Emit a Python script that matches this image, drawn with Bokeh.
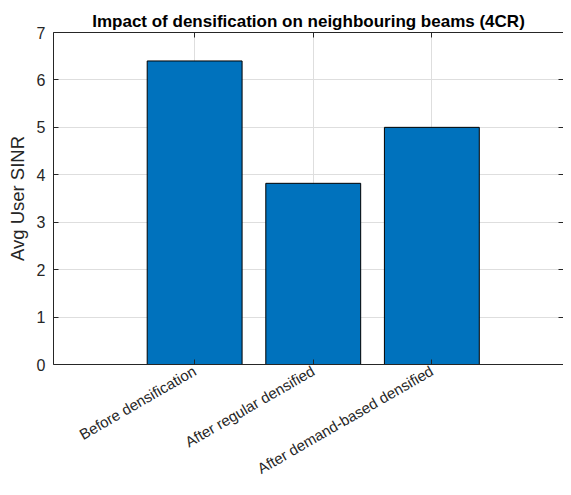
import math
from bokeh.plotting import figure
from bokeh.models import FixedTicker, LinearAxis, Range1d, ColumnDataSource
from bokeh.embed import file_html
from bokeh.resources import INLINE

categories = ["Before densification", "After regular densified", "After demand-based densified"]
values = [6.40, 3.82, 5.00]
y_ticks = [0, 1, 2, 3, 4, 5, 6, 7]

xs = list(range(1, len(categories) + 1))
src = ColumnDataSource(dict(x=xs, top=values))

FONT = "Liberation Sans"
AX = "#262626"

p = figure(width=563, height=487, output_backend="svg", toolbar_location=None,
           x_range=Range1d(-0.19, 4.11), y_range=Range1d(0, 7),
           min_border_left=53, min_border_right=0, min_border_top=32, min_border_bottom=120)
p.outline_line_color = None
p.background_fill_color = "white"

p.vbar(x="x", top="top", width=0.8, source=src, fill_color="#0072BD",
       line_color="#000000", line_width=1)

p.title.text = "Impact of densification on neighbouring beams (4CR)"
p.title.align = "center"
p.title.text_font = FONT
p.title.text_font_size = "17px"
p.title.text_font_style = "bold"
p.title.text_color = "#000000"
p.title.standoff = 4

def style_axis(ax, labels=True):
    ax.axis_line_color = AX
    ax.major_tick_line_color = AX
    ax.major_tick_in = 5
    ax.major_tick_out = 0
    ax.minor_tick_line_color = None
    ax.major_label_text_font = FONT
    ax.major_label_text_font_size = "16px"
    ax.major_label_text_color = AX
    if not labels:
        ax.major_label_text_font_size = "0px"
        ax.major_label_text_color = None
        ax.major_label_standoff = 0

xa = p.xaxis[0]
xa.ticker = FixedTicker(ticks=xs)
xa.major_label_overrides = {x: c for x, c in zip(xs, categories)}
xa.major_label_orientation = math.pi / 6
style_axis(xa)
xa.major_label_text_font_size = "15px"
xa.major_label_standoff = 5

ya = p.yaxis[0]
ya.ticker = FixedTicker(ticks=y_ticks)
style_axis(ya)
ya.major_label_standoff = 8
ya.axis_label = "Avg User SINR"
ya.axis_label_text_font = FONT
ya.axis_label_text_font_size = "18.5px"
ya.axis_label_text_font_style = "normal"
ya.axis_label_text_color = AX
ya.axis_label_standoff = 6

top = LinearAxis(ticker=FixedTicker(ticks=xs))
style_axis(top, labels=False)
p.add_layout(top, "above")

right = LinearAxis(ticker=FixedTicker(ticks=y_ticks))
style_axis(right, labels=False)
right.axis_line_color = None
p.add_layout(right, "right")

p.xgrid.ticker = FixedTicker(ticks=xs)
p.ygrid.ticker = FixedTicker(ticks=y_ticks)
p.xgrid.grid_line_color = "#dedede"
p.ygrid.grid_line_color = "#dedede"

open("out.html", "w").write(file_html(p, INLINE))
